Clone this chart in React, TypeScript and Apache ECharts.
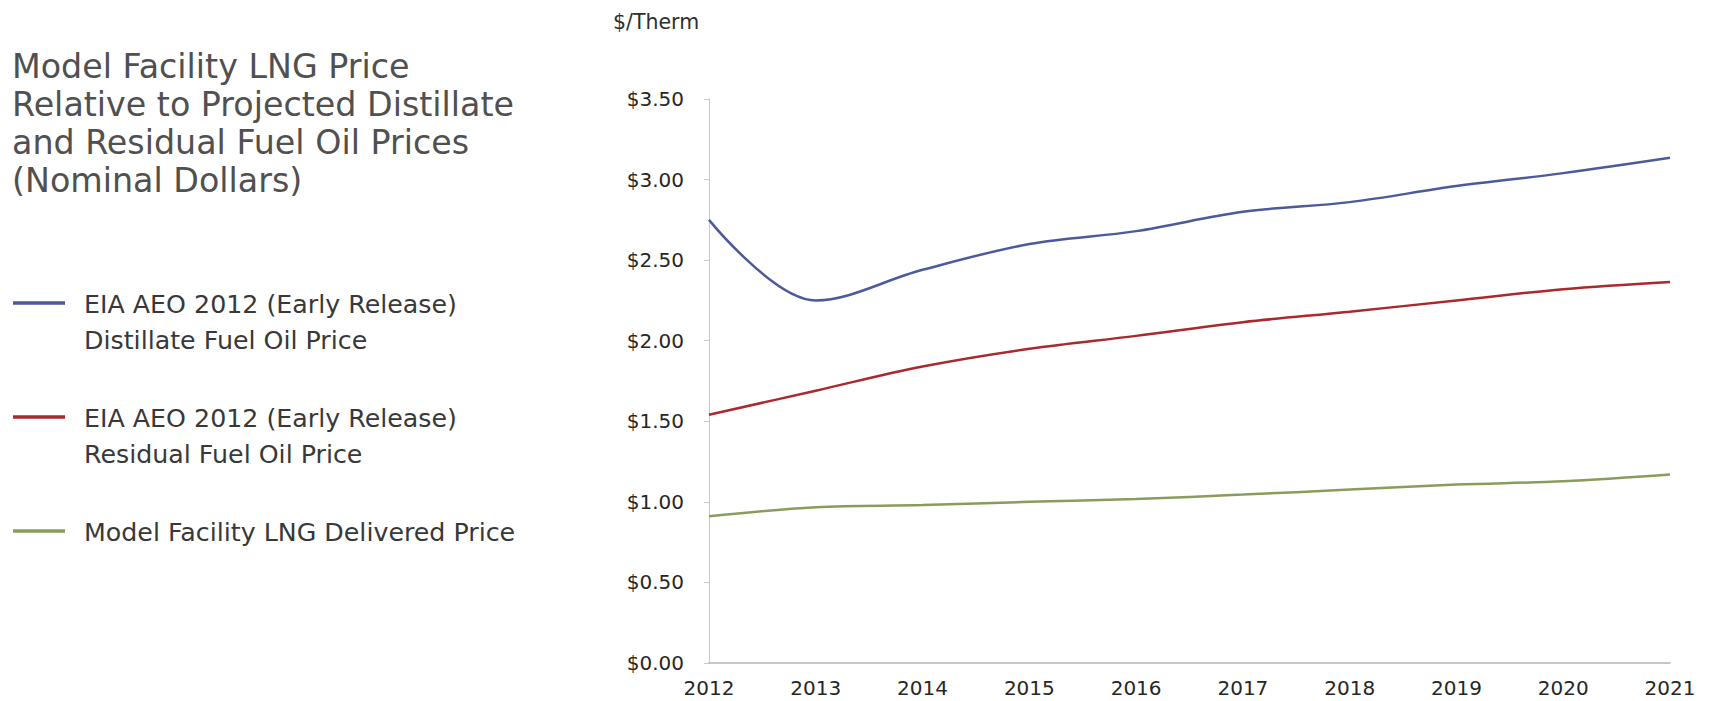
import React, { useEffect, useRef } from "react";
import * as echarts from "echarts";

const years = ["2012", "2013", "2014", "2015", "2016", "2017", "2018", "2019", "2020", "2021"];
const distillate = [2.75, 2.25, 2.44, 2.6, 2.68, 2.8, 2.86, 2.96, 3.04, 3.135];
const residual = [1.54, 1.69, 1.84, 1.95, 2.03, 2.115, 2.18, 2.25, 2.32, 2.365];
const lng = [0.91, 0.967, 0.98, 1.0, 1.017, 1.045, 1.076, 1.107, 1.128, 1.17];

const titleLines = [
  "Model Facility LNG Price",
  "Relative to Projected Distillate",
  "and Residual Fuel Oil Prices",
  "(Nominal Dollars)",
];
const seriesNames = [
  "EIA AEO 2012 (Early Release)\nDistillate Fuel Oil Price",
  "EIA AEO 2012 (Early Release)\nResidual Fuel Oil Price",
  "Model Facility LNG Delivered Price",
];
const seriesColors = ["#4b5a9a", "#ab282c", "#8a9c5c"];
const unitLabel = "$/Therm";

const FONT = "'DejaVu Sans', 'Liberation Sans', sans-serif";

export default function App() {
  const ref = useRef<HTMLDivElement>(null);
  useEffect(() => {
    if (!ref.current) return;
    const chart = echarts.init(ref.current, undefined, { renderer: "svg" });
    const data = [distillate, residual, lng];
    const legendY = [303, 417, 531];
    const graphic: any[] = [];
    titleLines.forEach((t, i) => {
      graphic.push({
        type: "text",
        x: 12,
        y: 66 + i * 38.3,
        style: {
          text: t,
          font: `33.3px ${FONT}`,
          fill: "#505050",
          verticalAlign: "middle",
        },
      });
    });
    seriesNames.forEach((n, i) => {
      graphic.push({
        type: "line",
        shape: { x1: 13, y1: legendY[i], x2: 65, y2: legendY[i] },
        style: { stroke: seriesColors[i], lineWidth: 3.5 },
      });
      n.split("\n").forEach((ln, j) => {
        graphic.push({
          type: "text",
          x: 84,
          y: legendY[i] + 1 + j * 36,
          style: {
            text: ln,
            font: `25.3px ${FONT}`,
            fill: "#383838",
            verticalAlign: "middle",
          },
        });
      });
    });
    graphic.push({
      type: "text",
      x: 613,
      y: 22,
      style: { text: unitLabel, font: `20.5px ${FONT}`, fill: "#2e2e2e", verticalAlign: "middle" },
    });

    chart.setOption({
      animation: false,
      backgroundColor: "#ffffff",
      grid: { left: 709, right: 40, top: 99, bottom: 38, containLabel: false },
      xAxis: {
        type: "category",
        data: years,
        boundaryGap: false,
        axisLine: { lineStyle: { color: "#b4b4b4", width: 1.5 } },
        axisTick: { show: false },
        axisLabel: { color: "#262626", fontSize: 20, fontFamily: FONT, margin: 15 },
      },
      yAxis: {
        type: "value",
        min: 0,
        max: 3.5,
        interval: 0.5,
        axisLine: { show: true, lineStyle: { color: "#c8c8c8", width: 1 } },
        axisTick: { show: true, length: 5, lineStyle: { color: "#c8c8c8" } },
        splitLine: { show: false },
        axisLabel: {
          color: "#262626",
          fontSize: 20,
          fontFamily: FONT,
          margin: 25,
          formatter: (v: number) => "$" + v.toFixed(2),
        },
      },
      series: data.map((d, i) => ({
        type: "line",
        name: seriesNames[i],
        data: d,
        smooth: 0.35,
        symbol: "none",
        lineStyle: { color: seriesColors[i], width: 2.5 },
      })),
      graphic,
    });
    return () => chart.dispose();
  }, []);
  return (
    <div
      ref={ref}
      style={{ position: "fixed", left: 0, top: 0, width: 1710, height: 701 }}
    />
  );
}
